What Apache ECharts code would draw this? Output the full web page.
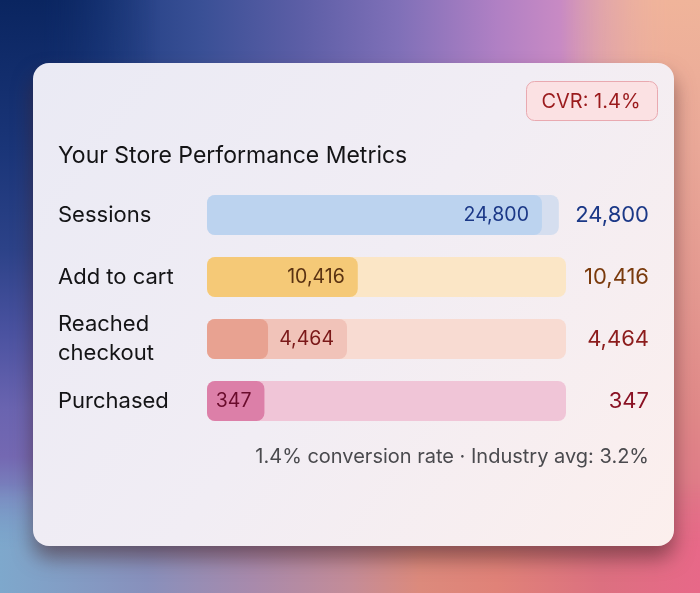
<!DOCTYPE html>
<html>
<head>
<meta charset="utf-8">
<script src="https://cdn.jsdelivr.net/npm/echarts@6/dist/echarts.min.js"></script>
<style>
  html, body { margin: 0; padding: 0; }
  body {
    width: 700px; height: 593px; overflow: hidden; position: relative;
    background: linear-gradient(90deg, #0a2560 0%, #1e3c80 14%, #3a5096 29%, #5c5ea6 43%, #8070b8 57%,
      #b080c4 71%, #c88ac4 80%, #d89cb4 86%, #e8aca4 93%, #f0b498 100%);
  }
  .bg { position: absolute; left: 0; top: 0; width: 700px; height: 593px; }
  .bg-left {
    background: linear-gradient(180deg, #0a2560 0%, #1a3578 25%, #2c4288 42%, #4a52a0 56%, #6a64b0 69%,
      #7468b2 77%, #7a88c0 84%, #76a0c8 92%, #7eaad0 100%);
    -webkit-mask-image: linear-gradient(90deg, #000 0px, #000 40px, transparent 160px);
    mask-image: linear-gradient(90deg, #000 0px, #000 40px, transparent 160px);
  }
  .bg-right {
    background: linear-gradient(180deg, #f0b49a 0%, #eaa898 25%, #e49890 50%, #e08888 70%, #e07888 85%, #e86888 100%);
    -webkit-mask-image: linear-gradient(270deg, #000 0px, #000 30px, transparent 140px);
    mask-image: linear-gradient(270deg, #000 0px, #000 30px, transparent 140px);
  }
  .bg-bottom {
    background: linear-gradient(90deg, #7ea8cc 0%, #8890bc 21%, #a88aac 36%, #c48c98 50%, #dc8a7c 60%,
      #e08278 71%, #dc7080 86%, #e86888 100%);
    -webkit-mask-image: linear-gradient(0deg, #000 0px, #000 40px, transparent 110px);
    mask-image: linear-gradient(0deg, #000 0px, #000 40px, transparent 110px);
  }
  #chart { position: absolute; left: 0; top: 0; width: 700px; height: 593px; }
</style>
</head>
<body>
<div class="bg bg-left"></div>
<div class="bg bg-right"></div>
<div class="bg bg-bottom"></div>
<div id="chart"></div>
<script>
// funnel stages
const stages = ["Sessions", "Add to cart", "Reached\ncheckout", "Purchased"]
const counts = [24800, 10416, 4464, 347]
// drawn bar lengths, % of track
const barPct = [93.3, 42, 17, 16]
const bandPct = [null, null, 39, null]   // lighter label band behind checkout bar
const trackPct = [98, 100, 100, 100]

const barColors = ["#bcd3ef", "#f5c977", "#e8a291", "#dc7fa8"]
const bandColors = [null, null, "#f1c3b9", null]
const trackColors = ["#d5deef", "#fbe6c6", "#f8dbd2", "#f0c5d7"]
const valueColors = ["#1b3887", "#7a3a0c", "#8c1c1c", "#8a1224"]
const innerColors = ["#1b3887", "#5a3212", "#7a1818", "#6a0c2c"]

const fmt = n => n.toLocaleString("en-US")
const FONT = "Inter"

const chart = echarts.init(document.getElementById("chart"), null, { renderer: "canvas" })

const innerLabel = i => ({
  show: true,
  position: "insideRight",
  distance: 13,
  formatter: fmt(counts[i]),
  color: innerColors[i],
  fontFamily: FONT,
  fontSize: 19.5,
  padding: [3, 0, 0, 0],
})

chart.setOption({
  backgroundColor: "transparent",
  animation: false,
  graphic: [
    {
      type: "rect",
      z: -10,
      shape: { x: 33, y: 63, width: 641, height: 483, r: 16 },
      style: {
        fill: new echarts.graphic.LinearGradient(0, 0, 1, 1, [
          { offset: 0, color: "#eaeaf4" },
          { offset: 0.5, color: "#f1edf4" },
          { offset: 1, color: "#fcefed" },
        ]),
        shadowBlur: 20,
        shadowOffsetY: 12,
        shadowColor: "rgba(70,35,40,0.55)",
      },
    },
    {
      type: "rect",
      shape: { x: 526.5, y: 81.5, width: 131, height: 39, r: 8 },
      style: { fill: "#fbe1e3", stroke: "#e9a9b0", lineWidth: 1 },
    },
    {
      type: "text",
      x: 591, y: 102,
      style: {
        text: "CVR: 1.4%", fill: "#9a1a1c", font: "20px " + FONT,
        textAlign: "center", textVerticalAlign: "middle",
      },
    },
    {
      type: "text",
      x: 58, y: 156,
      style: {
        text: "Your Store Performance Metrics", fill: "#141416", font: "23px " + FONT,
        textAlign: "left", textVerticalAlign: "middle",
      },
    },
    {
      type: "text",
      x: 649, y: 457,
      style: {
        text: "1.4% conversion rate \u00b7 Industry avg: 3.2%", fill: "#4a4a4e", font: "20px " + FONT,
        textAlign: "right", textVerticalAlign: "middle",
      },
    },
  ],
  grid: { left: 207, top: 184, width: 359, height: 248, containLabel: false },
  xAxis: { type: "value", min: 0, max: 100, show: false },
  yAxis: [
    {
      type: "category",
      data: stages,
      inverse: true,
      position: "left",
      axisLine: { show: false },
      axisTick: { show: false },
      axisLabel: {
        align: "left",
        margin: 149,
        color: "#141416",
        fontFamily: FONT,
        fontSize: 22,
        lineHeight: 29,
        padding: [4, 0, 0, 0],
      },
    },
    {
      type: "category",
      data: counts.map(fmt),
      inverse: true,
      position: "right",
      axisLine: { show: false },
      axisTick: { show: false },
      axisLabel: {
        align: "right",
        margin: 83,
        color: (v, i) => valueColors[i],
        fontFamily: FONT,
        fontSize: 22,
        padding: [4, 0, 0, 0],
      },
    },
  ],
  series: [
    {
      type: "bar",
      name: "track",
      silent: true,
      barWidth: 40,
      barGap: "-100%",
      data: trackPct.map((v, i) => ({ value: v, itemStyle: { color: trackColors[i], borderRadius: 8 } })),
    },
    {
      type: "bar",
      name: "band",
      barWidth: 40,
      barGap: "-100%",
      data: bandPct.map((v, i) => v == null ? { value: null } : {
        value: v,
        itemStyle: { color: bandColors[i], borderRadius: 8 },
        label: innerLabel(i),
      }),
    },
    {
      type: "bar",
      name: "count",
      barWidth: 40,
      barGap: "-100%",
      data: barPct.map((v, i) => ({
        value: v,
        itemStyle: { color: barColors[i], borderRadius: 8 },
        label: bandPct[i] == null ? innerLabel(i) : { show: false },
      })),
    },
  ],
})
</script>
</body>
</html>
